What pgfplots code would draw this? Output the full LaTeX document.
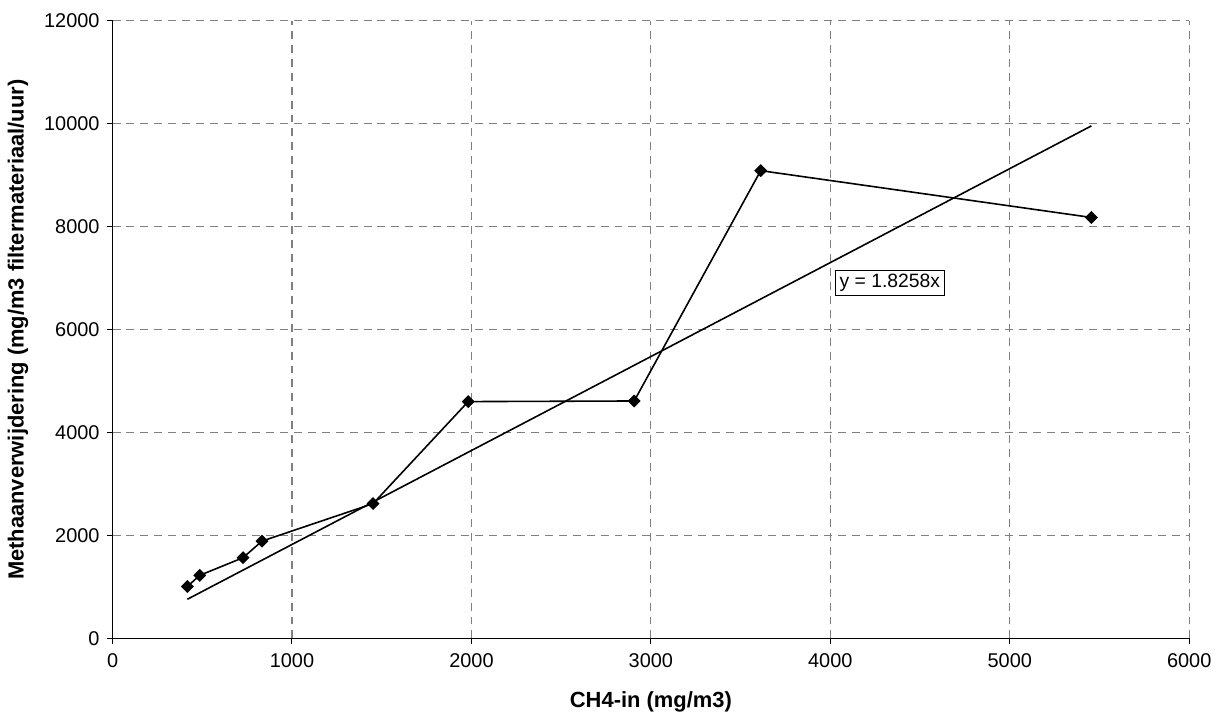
\documentclass[border=0pt]{standalone}
\usepackage{pgfplots}
\pgfplotsset{compat=1.18}
\usepackage{fontspec}
\setmainfont{Liberation Sans}
\begin{document}
\begin{tikzpicture}
\begin{axis}[
  scale only axis, width=540.5pt, height=310pt,
  xmin=0, xmax=6000, ymin=0, ymax=12000,
  xtick={0,1000,...,6000}, ytick={0,2000,...,12000},
  scaled ticks=false,
  axis x line*=bottom, axis y line*=left,
  axis line style={-, black, line width=0.8pt},
  grid=major, grid style={dash pattern=on 4pt off 3pt, gray, line width=0.6pt},
  tick align=outside, major tick length=3pt, tick style={black, line width=0.5pt},
  /pgf/number format/assume math mode=true, /pgf/number format/1000 sep={},
  ticklabel style={font=\fontsize{10}{12}\selectfont},
  xticklabel style={yshift=-1pt},
  xlabel={CH4-in (mg/m3)},
  ylabel={Methaanverwijdering (mg/m3 filtermateriaal/uur)},
  label style={font=\bfseries\fontsize{11}{13}\selectfont},
  xlabel style={at={(axis description cs:0.5,-0.103)}, anchor=center},
  ylabel style={at={(axis description cs:-0.0879,0.5)}, anchor=center},
  clip=false,
]
\addplot[black, line width=0.8pt, mark=square*, mark size=1.9pt, mark options={rotate=45, solid}]
  coordinates {
  (417,1010) (486,1226) (727,1568) (833,1891) (1452,2620)
  (1982,4602) (2907,4614) (3612,9090) (5455,8180)
  };
\addplot[black, line width=0.8pt] coordinates {(417,761) (5455,9960)};
\node[draw=black, line width=0.4pt, fill=white, inner sep=2pt, font=\fontsize{9.7}{11}\selectfont]
  at (axis cs:4332,6912) {y = 1.8258x};
\end{axis}
\path ([xshift=-56.5pt,yshift=-38pt]current axis.south west) rectangle ([xshift=12pt,yshift=10.5pt]current axis.north east);
\end{tikzpicture}
\end{document}
